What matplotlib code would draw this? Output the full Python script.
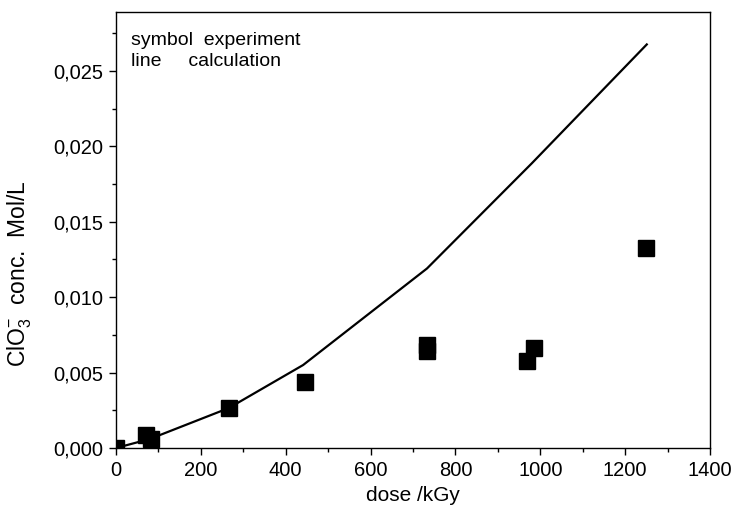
import matplotlib
matplotlib.use("Agg")
import matplotlib.pyplot as plt
from matplotlib.ticker import MultipleLocator, FuncFormatter

plt.rcParams['font.family'] = ['Liberation Sans', 'DejaVu Sans']
plt.rcParams['mathtext.fontset'] = 'custom'
plt.rcParams['mathtext.rm'] = 'Liberation Sans'
plt.rcParams['mathtext.it'] = 'Liberation Sans:italic'

# experiment (symbols)
exp_dose = [0, 71, 82, 266, 445, 733, 733, 969, 985, 1249]
exp_conc = [0.0, 0.00086, 0.0006, 0.00265, 0.0044, 0.0068, 0.0064, 0.00576, 0.00662, 0.01324]

# calculation (line)
calc_dose = [0, 80, 266, 441, 733, 980, 1251]
calc_conc = [0.0, 0.0006, 0.00265, 0.0055, 0.0119, 0.01887, 0.02675]

fig = plt.figure(figsize=(7.36, 5.24), dpi=100)
ax = fig.add_axes([116/736, 76/524, 594/736, 436/524])

ax.plot(calc_dose, calc_conc, color='black', lw=1.6, zorder=2)
ax.plot(exp_dose, exp_conc, linestyle='none', marker='s', color='black',
        markersize=11.5, zorder=3)

ax.set_xlim(0, 1400)
ax.set_ylim(0, 0.0289)
ax.xaxis.set_major_locator(MultipleLocator(200))
ax.xaxis.set_minor_locator(MultipleLocator(100))
ax.yaxis.set_major_locator(MultipleLocator(0.005))
ax.yaxis.set_minor_locator(MultipleLocator(0.0025))
ax.yaxis.set_major_formatter(FuncFormatter(lambda v, p: f"{v:.3f}".replace('.', ',')))

ax.tick_params(which='major', direction='out', length=5, width=1, labelsize=14.5, pad=4)
ax.tick_params(which='minor', direction='out', length=3, width=1)
ax.tick_params(top=False, right=False)
for s in ax.spines.values():
    s.set_linewidth(1.0)

ax.set_xlabel('dose /kGy', fontsize=15, labelpad=5)
ax.set_ylabel('ClO$_3^{-}$  conc.  Mol/L', fontsize=16.5)
ax.yaxis.set_label_coords(-0.138, 0.40)

ax.text(0.026, 0.955, 'symbol  experiment\nline     calculation', transform=ax.transAxes,
        fontsize=14, va='top', ha='left', linespacing=1.3)

fig.savefig('out.png', dpi=100)
